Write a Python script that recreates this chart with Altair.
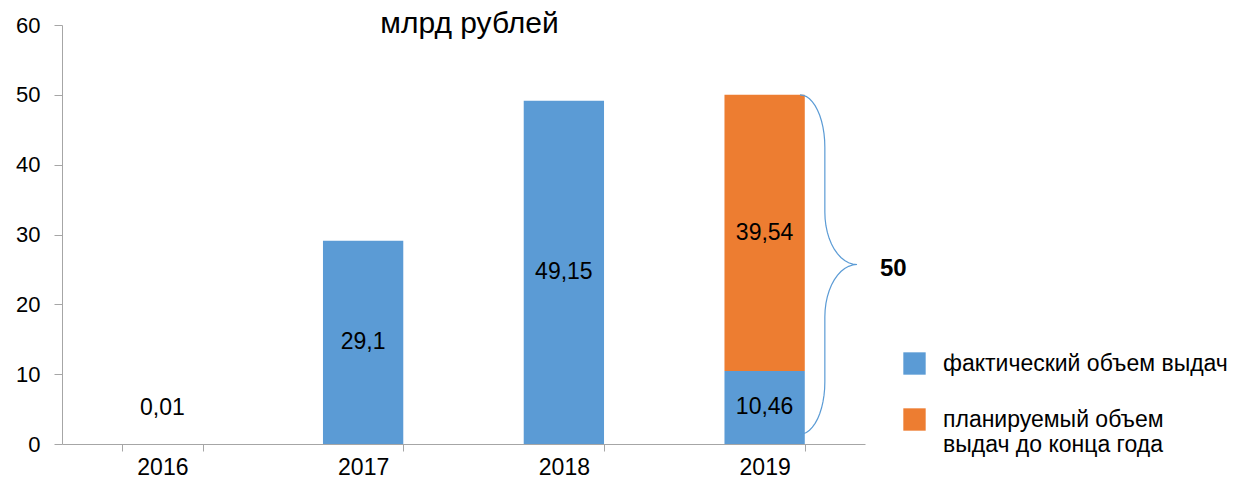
import math
import altair as alt
import pandas as pd

# ---- data ----
years = ["2016", "2017", "2018", "2019"]
actual = [0.01, 29.1, 49.15, 10.46]
planned_year = "2019"
planned = 39.54
series_names = ["фактический объем выдач", "планируемый объем выдач до конца года"]
colors = ["#5B9BD5", "#ED7D31"]
title_text = "млрд рублей"

FONT = "Liberation Sans Narrow, Arial Narrow, Liberation Sans, Arial, sans-serif"

rows = []
for y, v in zip(years, actual):
    rows.append({"year": y, "series": series_names[0], "value": v, "ord": 0})
rows.append({"year": planned_year, "series": series_names[1], "value": planned, "ord": 1})
df = pd.DataFrame(rows)

total = sum(r["value"] for r in rows if r["year"] == planned_year)

# brace (annotation) in category-index units for x, data units for y
idx = years.index(planned_year)
x_end, x_spine, x_tip = idx + 0.176, idx + 0.30, idx + 0.46
y_top, y_bot = total, 1.4
y_mid = (y_top + y_bot) / 2
r_y = 7.5  # vertical extent of each curve, data units
pts = []
n = 12
for i in range(n + 1):  # top end -> spine
    t = math.pi / 2 * i / n
    pts.append((x_end + (x_spine - x_end) * math.sin(t), y_top - r_y + r_y * math.cos(t)))
for i in range(n + 1):  # spine -> tip
    t = math.pi / 2 * i / n
    pts.append((x_spine + (x_tip - x_spine) * (1 - math.cos(t)), y_mid + r_y - r_y * math.sin(t)))
for i in range(n + 1):  # tip -> spine
    t = math.pi / 2 * i / n
    pts.append((x_tip - (x_tip - x_spine) * math.sin(t), y_mid - r_y + r_y * math.cos(t)))
for i in range(n + 1):  # spine -> bottom end
    t = math.pi / 2 * i / n
    pts.append((x_spine - (x_spine - x_end) * (1 - math.cos(t)), y_bot + r_y - r_y * math.sin(t)))
brace_df = pd.DataFrame([{"bx": p[0], "by": p[1], "k": i} for i, p in enumerate(pts)])
total_df = pd.DataFrame([{"bx": x_tip, "by": y_mid, "label": f"{total:g}".replace(".", ",")}])
title_df = pd.DataFrame([{"t": title_text}])

W, H = 803, 419

x_band = alt.X("year:N", sort=years, title=None,
               scale=alt.Scale(paddingInner=0.6, paddingOuter=0.3),
               axis=alt.Axis(labelAngle=0, tickBand="extent", labelFontSize=23,
                             labelPadding=5, tickSize=7))
y_q = alt.Y("value:Q", title=None, stack="zero",
            scale=alt.Scale(domain=[0, 60], nice=False),
            axis=alt.Axis(values=[0, 10, 20, 30, 40, 50, 60], grid=False,
                          labelFontSize=22, tickSize=8, labelPadding=14))

base = alt.Chart(df)

bars = base.mark_bar().encode(
    x=x_band,
    y=y_q,
    order=alt.Order("ord:Q"),
    color=alt.Color("series:N", sort=series_names,
                    scale=alt.Scale(domain=series_names, range=colors),
                    legend=alt.Legend(
                        title=None, orient="none", legendX=841, legendY=327,
                        symbolType="square", symbolSize=500, symbolStrokeWidth=0,
                        labelFontSize=23, labelFont=FONT, labelOffset=17,
                        labelLimit=400, rowPadding=32,
                        labelExpr="datum.label == '" + series_names[1] + "' ? ['планируемый объем', 'выдач до конца года'] : datum.label",
                    )),
)

labels_big = base.transform_filter("datum.value >= 1").transform_stack(
    stack="value", groupby=["year"], as_=["v0", "v1"], sort=[alt.SortField("ord")]
).transform_calculate(
    mid="(datum.v0 + datum.v1) / 2",
    txt="replace(toString(datum.value), '.', ',')",
).mark_text(fontSize=23, font=FONT, color="black", baseline="middle").encode(
    x=alt.X("year:N", sort=years),
    y=alt.Y("mid:Q"),
    text="txt:N",
)

labels_small = base.transform_filter("datum.value < 1").transform_calculate(
    txt="replace(toString(datum.value), '.', ',')",
).mark_text(fontSize=23, font=FONT, color="black", baseline="middle", dy=-36).encode(
    x=alt.X("year:N", sort=years),
    y=alt.Y("value:Q"),
    text="txt:N",
)

bar_layer = alt.layer(bars, labels_big, labels_small)

bx = alt.X("bx:Q", scale=alt.Scale(domain=[-0.5, len(years) - 0.5], nice=False, zero=False), axis=None)
brace = alt.Chart(brace_df).mark_line(color="#5B9BD5", strokeWidth=1.2).encode(
    x=bx, y=alt.Y("by:Q"), order="k:Q",
)
total_label = alt.Chart(total_df).mark_text(
    fontSize=24, fontWeight="bold", font=FONT, align="left", baseline="middle", dx=23, dy=4, color="black"
).encode(x=bx, y=alt.Y("by:Q"), text="label:N")

title_mark = alt.Chart(title_df).mark_text(
    fontSize=30, font=FONT, align="center", baseline="alphabetic", color="black"
).encode(x=alt.value(W / 2 + 6), y=alt.value(8), text="t:N")

chart = alt.layer(bar_layer, brace, total_label, title_mark).resolve_scale(x="independent").properties(
    width=W, height=H,
    padding={"left": 54, "top": 17, "right": 372, "bottom": 35},
    autosize=alt.AutoSizeParams(type="none"),
).configure_view(stroke=None).configure_axis(
    domainColor="#a6a6a6", tickColor="#a6a6a6", labelColor="black", labelFont=FONT,
).configure_text(font=FONT)

chart.save("out.html", embed_options={"renderer": "svg", "actions": False})
